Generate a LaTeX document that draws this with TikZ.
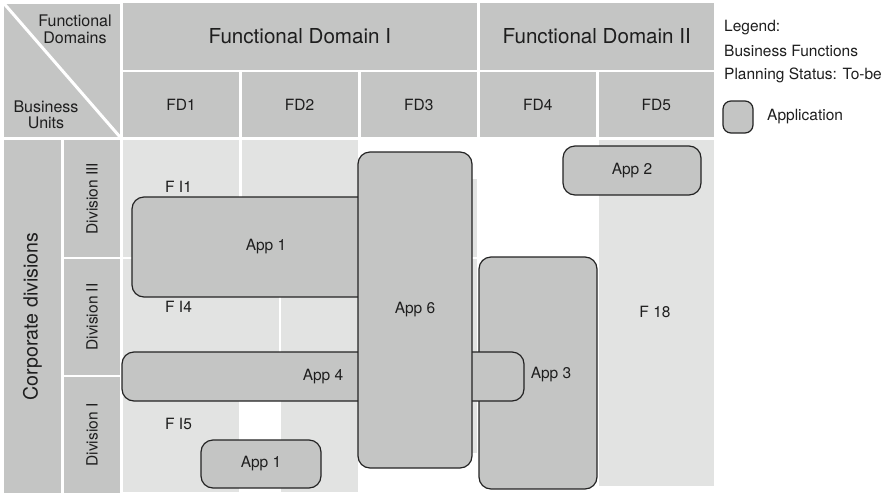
\documentclass[tikz,border=0pt]{standalone}
\usepackage{fontspec}
\setmainfont{TeX Gyre Heros}
\definecolor{hdr}{RGB}{196,197,196}
\definecolor{lite}{RGB}{226,227,226}
\definecolor{bord}{RGB}{35,35,35}
\definecolor{txt}{RGB}{30,30,30}
\tikzset{
  cell/.style={fill=hdr, inner sep=0pt, text=txt, font=\fontsize{15.5}{18}\selectfont},
  bigcell/.style={cell, font=\fontsize{20.6}{24}\selectfont},
  app/.style={draw=bord, fill=hdr, rounded corners=12pt, line width=1.2pt, inner sep=0pt, text=txt, font=\fontsize{15.5}{18}\selectfont},
  lbl/.style={inner sep=0pt, text=txt, font=\fontsize{15.5}{18}\selectfont},
}
\begin{document}
\begin{tikzpicture}[x=1pt,y=-1pt]
\useasboundingbox (0,0) rectangle (889,493);
% header
\node[cell, minimum width=116pt, minimum height=133.5pt] (corner) at (62,70.25) {};
\draw[white, line width=3pt] (corner.north west) -- (corner.south east);
\node[lbl, align=center, font=\fontsize{16}{17}\selectfont] (fdom) at (75,29.5) {Functional\\Domains};
\node[lbl, align=center, font=\fontsize{16}{16.5}\selectfont] (bunits) at (46,115) {Business\\Units};
\node[bigcell, minimum width=353.7pt, minimum height=66.5pt] (fdI) at (299.85,36.25) {Functional Domain I};
\node[bigcell, minimum width=233.5pt, minimum height=66.5pt] (fdII) at (596.75,36.25) {Functional Domain II};
\node[cell, minimum width=116pt, minimum height=64.5pt] (fd1) at (181,104.5) {FD1};
\node[cell, minimum width=116pt, minimum height=64.5pt] (fd2) at (299.5,104.5) {FD2};
\node[cell, minimum width=115.5pt, minimum height=64.5pt] (fd3) at (418.75,104.5) {FD3};
\node[cell, minimum width=115.5pt, minimum height=64.5pt] (fd4) at (537.75,104.5) {FD4};
\node[cell, minimum width=114.5pt, minimum height=64.5pt] (fd5) at (656.25,104.5) {FD5};
% left column (rotated: width is the vertical extent)
\node[cell, minimum width=353pt, minimum height=57pt, rotate=90, font=\fontsize{19.6}{22}\selectfont] (corp) at (32.5,316.5) {Corporate divisions};
\node[cell, minimum width=117pt, minimum height=56pt, rotate=90] (div3) at (92,198.5) {Division III};
\node[cell, minimum width=116pt, minimum height=56pt, rotate=90] (div2) at (92,317) {Division II};
\node[cell, minimum width=116pt, minimum height=56pt, rotate=90] (div1) at (92,435) {Division I};
% business function cells
\fill[lite] (123,139.5) rectangle (239,257);
\fill[lite] (241.5,139.5) rectangle (357.5,257);
\fill[lite] (123,259) rectangle (279,375);
\fill[lite] (281,259) rectangle (357.5,375);
\fill[lite] (123,377) rectangle (239,492);
\fill[lite] (281,377) rectangle (357.5,492);
\fill[lite] (361,179) rectangle (476.5,257);
\fill[lite] (361,259) rectangle (476.5,453);
\fill[lite] (599,139.5) rectangle (713.5,486);
% applications
\node[app, minimum width=118pt, minimum height=232pt] (app3) at (538,373) {};
\node[app, minimum width=402pt, minimum height=49pt] (app4) at (323,376.5) {App 4};
\node[app, minimum width=268pt, minimum height=100pt] (app1a) at (266,247) {App 1};
\node[app, minimum width=120pt, minimum height=48pt] (app1b) at (261,464) {App 1};
\node[app, minimum width=114pt, minimum height=316pt] (app6) at (415,310) {App 6};
\node[app, minimum width=138pt, minimum height=49pt] (app2) at (632,170.5) {App 2};
\node[lbl] (app3l) at (551,375) {App 3};
% function labels
\node[lbl, anchor=west] (fi1) at (165,187) {F I1};
\node[lbl, anchor=west] (fi4) at (165,307) {F I4};
\node[lbl, anchor=west] (fi5) at (165,424) {F I5};
\node[lbl] (f18) at (655,312) {F 18};
% legend
\node[lbl, anchor=west] (leg) at (724,28) {Legend:};
\node[lbl, anchor=west] (legbf) at (724,51) {Business Functions};
\node[lbl, anchor=west] (legps) at (724,75) {Planning Status: To-be};
\node[app, rounded corners=8pt, minimum width=30pt, minimum height=32pt] (legbox) at (738,117) {};
\node[lbl, anchor=west] (legapp) at (767,117) {Application};
\end{tikzpicture}
\end{document}
